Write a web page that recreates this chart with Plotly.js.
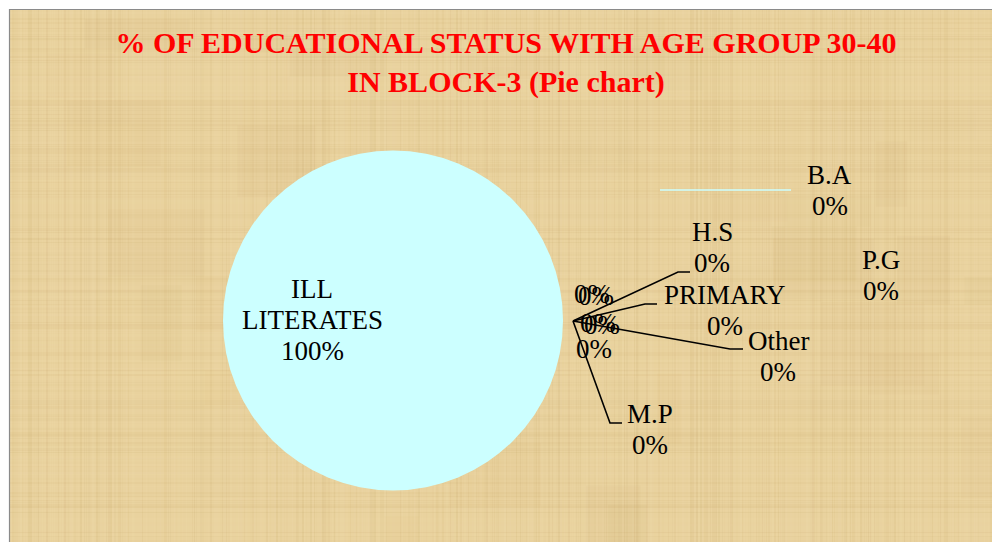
<!DOCTYPE html>
<html>
<head>
<meta charset="utf-8">
<script src="https://cdn.plot.ly/plotly-3.0.1.min.js"></script>
<style>html,body{margin:0;padding:0;background:#fff;}#chart{width:992px;height:542px;}</style>
</head>
<body>
<div id="chart"></div>
<script>
// ---- data ----
const categories = ['ILL LITERATES', 'PRIMARY', 'M.P', 'H.S', 'B.A', 'P.G', 'Other'];
const values = [100, 0, 0, 0, 0, 0, 0];
const titleLines = ['% OF EDUCATIONAL STATUS WITH AGE GROUP 30-40', 'IN BLOCK-3 (Pie chart)'];

// ---- styling / layout ----
const W = 992, H = 542;
const px = x => x / W;
const py = y => 1 - y / H;
const sliceColors = ['#CCFFFF', '#9999FF', '#993366', '#FFFFCC', '#660066', '#FF8080', '#0066CC'];
const serif = 'Liberation Serif, Times New Roman, serif';
const labelSize = 27, lineGap = 31;

// label anchor (x centre, mid-y of first line) in pixels
const labelPos = [
  {x: 312, y: 289},
  {x: 724.5, y: 295},
  {x: 649.5, y: 414},
  {x: 712, y: 231.5},
  {x: 829.5, y: 174.5},
  {x: 880.5, y: 259.5},
  {x: 778, y: 341}
];
// cluster of overlapping percentage labels next to the pie edge
const clusterPos = [{x: 592, y: 294}, {x: 596, y: 296}, {x: 598, y: 323}, {x: 602, y: 325}, {x: 594, y: 349}];

// leader lines (pixels)
const leaders = [
  [[573, 321], [678, 272], [690, 272]],
  [[573, 321], [645, 304], [657, 304]],
  [[573, 321], [730, 349], [743, 349]],
  [[573, 321], [610, 423], [622, 423]]
];

function texture(w, h) {
  const c = document.createElement('canvas');
  c.width = w; c.height = h;
  const g = c.getContext('2d');
  g.fillStyle = '#E9D29E';
  g.fillRect(0, 0, w, h);
  const hash = n => { const s = Math.sin(n * 127.1 + 311.7) * 43758.5453; return s - Math.floor(s); };
  for (let i = 0; i < 120; i++) {
    const x = hash(i * 3.1) * w, y = hash(i * 7.7) * h;
    const bw = 20 + hash(i * 1.3) * 90, bh = 15 + hash(i * 5.9) * 70;
    const a = (hash(i * 9.3) - 0.5) * 0.09;
    g.fillStyle = a > 0 ? `rgba(250,232,190,${a})` : `rgba(180,140,70,${-a})`;
    g.fillRect(x, y, bw, bh);
  }
  for (let x = 0; x < w; x += 2) {
    const a = (hash(x * 0.37) - 0.5) * 0.16;
    g.fillStyle = a > 0 ? `rgba(252,238,200,${a})` : `rgba(170,130,60,${-a})`;
    g.fillRect(x, 0, 1 + Math.floor(hash(x) * 2), h);
  }
  for (let y = 0; y < h; y += 2) {
    const a = (hash(y * 0.71 + 5) - 0.5) * 0.14;
    g.fillStyle = a > 0 ? `rgba(252,238,200,${a})` : `rgba(170,130,60,${-a})`;
    g.fillRect(0, y, w, 1 + Math.floor(hash(y + 3) * 2));
  }
  return c.toDataURL();
}

const total = values.reduce((a, b) => a + b, 0);
const pct = values.map(v => Math.round(v / total * 100) + '%');

// pie geometry (pixels)
const cx = 393, cy = 320.5, r = 170;

const trace = {
  type: 'pie',
  labels: categories,
  values: values,
  sort: false,
  direction: 'clockwise',
  textinfo: 'none',
  hoverinfo: 'label+percent',
  marker: {colors: sliceColors, line: {width: 0}},
  domain: {x: [px(cx - r), px(cx + r)], y: [py(cy + r), py(cy - r)]},
  showlegend: false
};

const annotations = [];
categories.forEach((name, i) => {
  const lines = (i === 0 ? name.split(' ') : [name]).concat([pct[i]]);
  lines.forEach((t, k) => {
    annotations.push({
      xref: 'paper', yref: 'paper', x: px(labelPos[i].x), y: py(labelPos[i].y + k * lineGap),
      xanchor: 'center', yanchor: 'middle', showarrow: false, text: t,
      font: {family: serif, size: labelSize, color: '#000'}
    });
  });
});
const zeroPct = pct.filter((p, i) => values[i] === 0);
clusterPos.forEach((p, j) => {
  annotations.push({
    xref: 'paper', yref: 'paper', x: px(p.x), y: py(p.y), xanchor: 'center', yanchor: 'middle',
    showarrow: false, text: zeroPct[j % zeroPct.length],
    font: {family: serif, size: labelSize, color: '#000'}
  });
});

const shapes = leaders.map(pts => ({
  type: 'path', xref: 'paper', yref: 'paper',
  path: pts.map((p, k) => (k ? 'L' : 'M') + px(p[0]) + ',' + py(p[1])).join(' '),
  line: {color: '#000', width: 1.6}
}));
shapes.push({type: 'line', xref: 'paper', yref: 'paper', x0: px(660), x1: px(791), y0: py(190), y1: py(190),
  line: {color: '#CCFFFF', width: 1.5}});
shapes.push({type: 'path', xref: 'paper', yref: 'paper',
  path: `M${px(9.5)},0 L${px(9.5)},${py(9.5)} L1,${py(9.5)}`, line: {color: '#8A8A8A', width: 1.2}});

const layout = {
  width: W, height: H,
  margin: {l: 0, r: 0, t: 0, b: 0},
  paper_bgcolor: '#FFFFFF',
  plot_bgcolor: 'rgba(0,0,0,0)',
  title: {
    text: '<b>' + titleLines.join('<br>') + '</b>',
    font: {family: serif, size: 30, color: '#FF0000'},
    xref: 'paper', yref: 'container', x: px(506), xanchor: 'center', y: py(53), yanchor: 'top'
  },
  images: [{
    source: texture(982, 532), xref: 'paper', yref: 'paper',
    x: px(10), y: py(10), sizex: 982 / W, sizey: 532 / H,
    xanchor: 'left', yanchor: 'top', sizing: 'stretch', layer: 'below'
  }],
  annotations: annotations,
  shapes: shapes
};

Plotly.newPlot('chart', [trace], layout, {displayModeBar: false, staticPlot: true});
</script>
</body>
</html>
